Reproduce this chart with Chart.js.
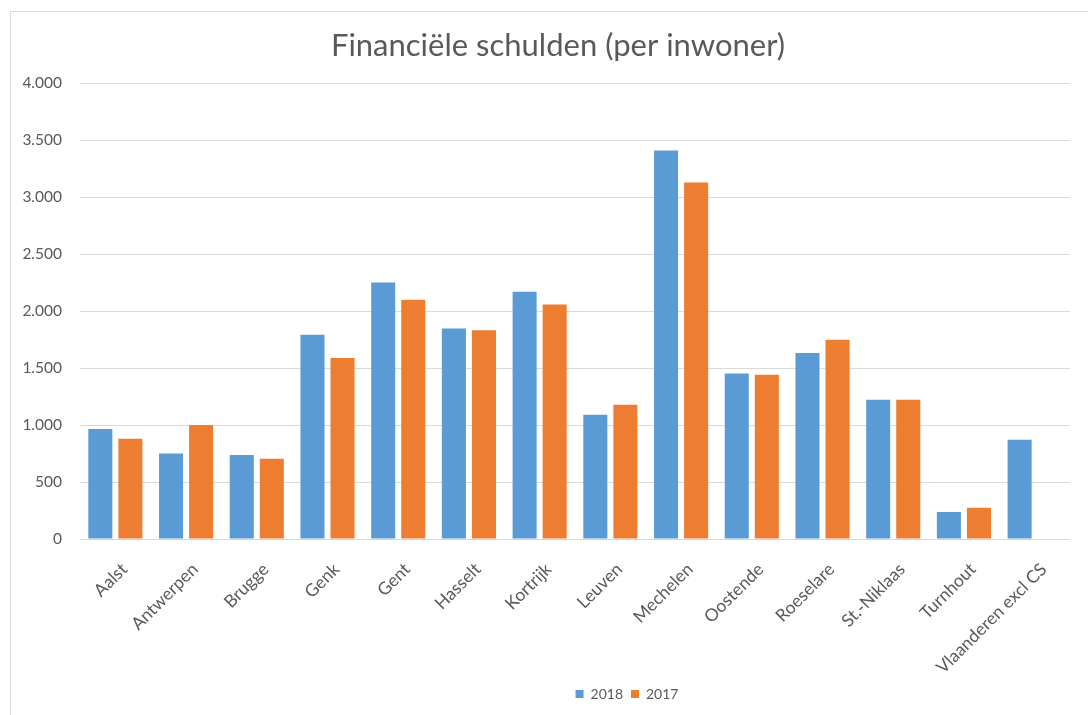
<!DOCTYPE html>
<html>
<head>
<meta charset="utf-8">
<script src="https://cdn.jsdelivr.net/npm/chart.js@4"></script>
<style>
  html, body { margin: 0; padding: 0; background: #fff; overflow: hidden; width: 1088px; height: 715px; }
  #frame { position: absolute; left: 10px; top: 11px; width: 1080px; height: 710px; border: 1px solid #d9d9d9; box-sizing: border-box; }
  #wrap { position: absolute; left: 10px; top: 11px; width: 1080px; height: 704px; }
</style>
</head>
<body>
<div id="frame"></div>
<div id="wrap"><canvas id="c"></canvas></div>
<script>
const categories = ["Aalst", "Antwerpen", "Brugge", "Genk", "Gent", "Hasselt", "Kortrijk", "Leuven", "Mechelen", "Oostende", "Roeselare", "St.-Niklaas", "Turnhout", "Vlaanderen excl CS"];
const values2018 = [965, 751, 737, 1792, 2251, 1848, 2170, 1091, 3409, 1453, 1632, 1222, 237, 871];
const values2017 = [880, 1000, 705, 1588, 2099, 1833, 2058, 1178, 3129, 1441, 1748, 1222, 275, null];
const seriesNames = ["2018", "2017"];
const titleText = "Financiële schulden (per inwoner)";
const yMin = 0, yMax = 4000, yStep = 500;

const gray = "#595959";
const fontFam = "Lato, 'Open Sans', sans-serif";

const boxShift = {
  id: "boxShift",
  afterLayout(chart) {
    const l = chart.legend;
    if (l) { l.left += 87; l.right += 87; }
    const t = chart.titleBlock;
    if (t) { t.left += 18; t.right += 18; }
  }
};

new Chart(document.getElementById("c"), {
  type: "bar",
  data: {
    labels: categories,
    datasets: [
      { label: seriesNames[0], data: values2018, backgroundColor: "#5B9BD5", barPercentage: 0.8, categoryPercentage: 0.85 },
      { label: seriesNames[1], data: values2017, backgroundColor: "#ED7D31", barPercentage: 0.8, categoryPercentage: 0.85 }
    ]
  },
  plugins: [boxShift],
  options: {
    responsive: true,
    maintainAspectRatio: false,
    animation: false,
    devicePixelRatio: 1,
    layout: { padding: { top: 16, right: 20, bottom: 4, left: 0 } },
    plugins: {
      title: {
        display: true, text: titleText, color: gray,
        font: { family: fontFam, size: 31, weight: "normal" },
        padding: { top: 0, bottom: 19 }
      },
      legend: {
        position: "bottom",
        labels: {
          color: gray, boxWidth: 8, boxHeight: 8, padding: 8,
          font: { family: fontFam, size: 14 }
        }
      },
      tooltip: { enabled: false }
    },
    scales: {
      x: {
        grid: { display: false, drawTicks: false },
        border: { display: false },
        ticks: {
          color: gray, font: { family: fontFam, size: 17.5 },
          maxRotation: 45, minRotation: 45, padding: 20, labelOffset: 9
        },
        afterFit: (s) => { s.height = 140; }
      },
      y: {
        min: yMin, max: yMax,
        grid: { color: "#d9d9d9", drawTicks: false, lineWidth: 1 },
        border: { display: false },
        ticks: {
          stepSize: yStep, color: gray, padding: 18,
          font: { family: fontFam, size: 15.5 },
          callback: (v) => v.toLocaleString("nl-BE")
        },
        afterFit: (s) => { s.width = 70; }
      }
    }
  }
});
</script>
</body>
</html>
